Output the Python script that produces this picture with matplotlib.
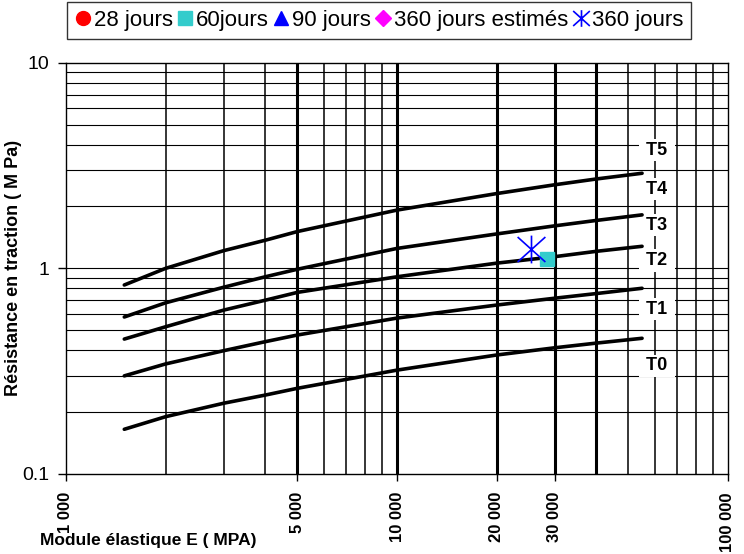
import numpy as np
import matplotlib
matplotlib.use("Agg")
import matplotlib.pyplot as plt
from matplotlib.path import Path

plt.rcParams['font.family'] = ['Liberation Sans', 'DejaVu Sans']

# modulus E (MPa) where the class boundaries are read
E_pts = [1500, 2000, 3000, 4000, 5000, 10000, 20000, 30000, 40000, 55000]
# tensile strength (MPa) on each boundary curve, top to bottom
curve_45 = [0.83, 1.00, 1.22, 1.37, 1.51, 1.92, 2.31, 2.55, 2.72, 2.90]
curve_34 = [0.58, 0.68, 0.81, 0.91, 0.99, 1.25, 1.47, 1.61, 1.71, 1.82]
curve_23 = [0.453, 0.52, 0.627, 0.70, 0.764, 0.91, 1.06, 1.14, 1.21, 1.28]
curve_12 = [0.30, 0.343, 0.398, 0.44, 0.474, 0.573, 0.663, 0.716, 0.754, 0.80]
curve_01 = [0.165, 0.19, 0.221, 0.242, 0.261, 0.32, 0.379, 0.411, 0.433, 0.457]
curves = [curve_45, curve_34, curve_23, curve_12, curve_01]

# class labels and where they sit
class_names = ['T5', 'T4', 'T3', 'T2', 'T1', 'T0']
class_y = [3.76, 2.43, 1.62, 1.09, 0.634, 0.336]
class_x = 61000

# measured points
E_28, R_28 = [], []
E_60, R_60 = [28300], [1.11]
E_90, R_90 = [], []
E_360e, R_360e = [], []
E_360, R_360 = [25400], [1.24]

x_ticks = [1000, 5000, 10000, 20000, 30000, 100000]
x_ticklabels = ['1 000', '5 000', '10 000', '20 000', '30 000', '100 000']
y_ticks = [0.1, 1, 10]
y_ticklabels = ['0.1', '1', '10']

xgrid_thin = [2000, 3000, 4000, 6000, 7000, 8000, 9000,
              50000, 60000, 70000, 80000, 90000]
xgrid_thick = [5000, 10000, 20000, 30000, 40000]
ygrid = [0.2, 0.3, 0.4, 0.5, 0.6, 0.7, 0.8, 0.9,
         1, 2, 3, 4, 5, 6, 7, 8, 9]

fig = plt.figure(figsize=(7.44, 5.54), dpi=100)
ax = fig.add_axes([66/744, 80/554, 662/744, 411.3/554])
ax.set_xscale('log')
ax.set_yscale('log')
ax.set_xlim(1000, 100000)
ax.set_ylim(0.1, 10)

for v in xgrid_thin:
    ax.axvline(v, color='black', lw=1.1, zorder=1)
for v in xgrid_thick:
    ax.axvline(v, color='black', lw=2.2, zorder=1)
for v in ygrid:
    ax.axhline(v, color='black', lw=0.8, zorder=1)

for c in curves:
    ax.plot(E_pts, c, color='black', lw=2.6, solid_capstyle='round',
            solid_joinstyle='round', zorder=3)

for name, yv in zip(class_names, class_y):
    ax.text(class_x, yv, ' ' + name + ' ', ha='center', va='center',
            fontsize=13, fontweight='bold', zorder=2.5,
            bbox=dict(boxstyle='square,pad=0.15', fc='white', ec='none'))

# star marker like the spreadsheet one: vertical bar plus a cross
star = Path([(0, -1), (0, 1), (-1, -0.9), (1, 0.9), (-1, 0.9), (1, -0.9)],
            [Path.MOVETO, Path.LINETO, Path.MOVETO, Path.LINETO,
             Path.MOVETO, Path.LINETO])

h1, = ax.plot(E_28, R_28, 'o', color='#FF0000', ms=10, ls='none')
h2, = ax.plot(E_60, R_60, 's', color='#33CCCC', ms=10.5, ls='none', zorder=4)
h3, = ax.plot(E_90, R_90, '^', color='#0000FF', ms=10, ls='none')
h4, = ax.plot(E_360e, R_360e, 'D', color='#FF00FF', ms=8, ls='none')
h5, = ax.plot(E_360, R_360, marker=star, color='#0000FF', ms=20, mew=1.2,
              ls='none', zorder=5)

ax.set_xticks(x_ticks)
ax.set_xticklabels(x_ticklabels, rotation=90, fontsize=12, fontweight='bold',
                   va='top')
ax.xaxis.set_minor_locator(matplotlib.ticker.NullLocator())
ax.set_yticks(y_ticks)
ax.set_yticklabels(y_ticklabels, fontsize=14)
ax.yaxis.set_minor_locator(matplotlib.ticker.NullLocator())
ax.tick_params(axis='x', direction='out', length=5, width=1, pad=8)
ax.tick_params(axis='y', direction='out', length=6, width=1, pad=6)
for s in ax.spines.values():
    s.set_linewidth(1)

ax.set_ylabel('Résistance en traction ( M Pa)', fontsize=13, fontweight='bold')
ax.yaxis.set_label_coords(-0.0665, 0.5)
xl = ax.set_xlabel('Module élastique E ( MPA)', fontsize=12.5,
                   fontweight='bold', ha='left', va='center')
ax.xaxis.set_label_coords(-0.039, -0.1605)

leg = fig.legend([h1, h2, h3, h4, h5],
                 ['28 jours', '60jours', '90 jours', '360 jours estimés', '360 jours'],
                 loc='upper left', bbox_to_anchor=(67/744, 1 - 2/554), ncol=5,
                 fontsize=16, frameon=True, fancybox=False, shadow=False,
                 handlelength=0.7, handletextpad=0.15, columnspacing=0.2,
                 borderpad=0.35, borderaxespad=0)
leg.get_frame().set_edgecolor('black')
leg.get_frame().set_linewidth(1)
leg.legend_handles[4].set_markersize(12)

fig.savefig('out.png', dpi=100)
